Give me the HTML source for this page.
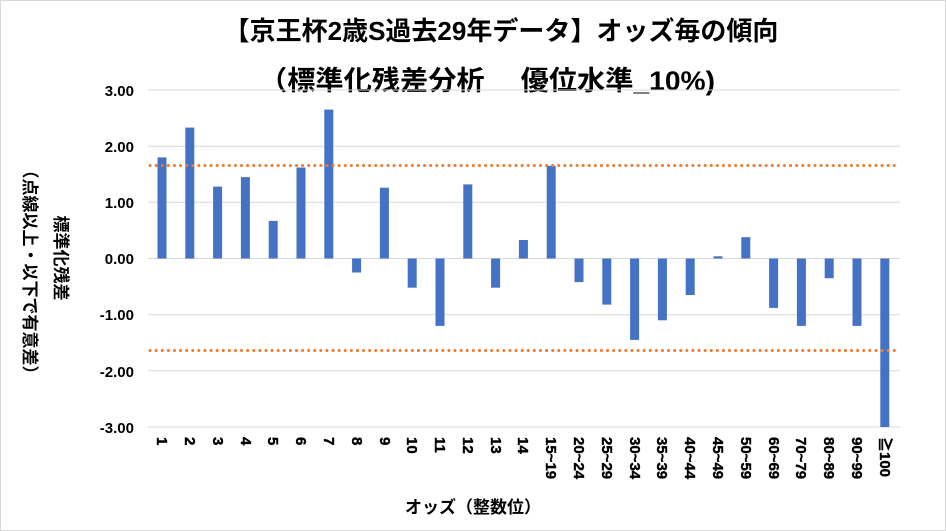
<!DOCTYPE html><html><head><meta charset="utf-8"><style>body{margin:0;background:#fff}svg{display:block}text{font-family:"Liberation Sans","Noto Sans CJK JP",sans-serif;font-weight:bold;fill:#000}</style></head><body>
<svg width="946" height="531" viewBox="0 0 946 531">
<rect x="0.5" y="0.5" width="945" height="530" fill="#fff" stroke="#d9d9d9"/>
<text x="501" y="40" font-size="26" text-anchor="middle">【京王杯2歳S過去29年データ】オッズ毎の傾向</text>
<text x="487" y="90" font-size="27" text-anchor="middle" textLength="456" lengthAdjust="spacingAndGlyphs">（標準化残差分析　 優位水準_10%)</text>
<g stroke="#d9d9d9" stroke-width="1">
<line x1="148" x2="900" y1="90" y2="90"/><line x1="148" x2="900" y1="146.2" y2="146.2"/><line x1="148" x2="900" y1="202.3" y2="202.3"/><line x1="148" x2="900" y1="258.5" y2="258.5"/><line x1="148" x2="900" y1="314.7" y2="314.7"/><line x1="148" x2="900" y1="370.8" y2="370.8"/><line x1="148" x2="900" y1="427" y2="427"/></g>
<g font-size="15" text-anchor="end">
<text x="134" y="96">3.00</text><text x="134" y="152">2.00</text><text x="134" y="208">1.00</text><text x="134" y="264">0.00</text><text x="134" y="320">-1.00</text><text x="134" y="377">-2.00</text><text x="134" y="433">-3.00</text></g>
<g fill="#4472c4">
<rect x="157.5" y="157.4" width="9" height="101.1"/><rect x="185.3" y="127.6" width="9" height="130.9"/><rect x="213.1" y="186.6" width="9" height="71.9"/><rect x="240.9" y="177.1" width="9" height="81.4"/><rect x="268.7" y="220.9" width="9" height="37.6"/><rect x="296.5" y="167.5" width="9" height="91"/><rect x="324.3" y="109.6" width="9" height="148.9"/><rect x="352.1" y="258.5" width="9" height="14"/><rect x="379.9" y="187.7" width="9" height="70.8"/><rect x="407.7" y="258.5" width="9" height="29.2"/><rect x="435.5" y="258.5" width="9" height="67.4"/><rect x="463.3" y="184.4" width="9" height="74.1"/><rect x="491.1" y="258.5" width="9" height="29.2"/><rect x="518.9" y="240" width="9" height="18.5"/><rect x="546.7" y="165.8" width="9" height="92.7"/><rect x="574.5" y="258.5" width="9" height="23.6"/><rect x="602.3" y="258.5" width="9" height="46.1"/><rect x="630.1" y="258.5" width="9" height="81.4"/><rect x="657.9" y="258.5" width="9" height="61.8"/><rect x="685.7" y="258.5" width="9" height="36.5"/><rect x="713.5" y="256.3" width="9" height="2.2"/><rect x="741.3" y="237.2" width="9" height="21.3"/><rect x="769.1" y="258.5" width="9" height="49.4"/><rect x="796.9" y="258.5" width="9" height="67.4"/><rect x="824.7" y="258.5" width="9" height="19.7"/><rect x="852.5" y="258.5" width="9" height="67.4"/><rect x="880.3" y="258.5" width="9" height="168.5"/></g>
<g stroke="#ed7d31" stroke-width="3" stroke-dasharray="0.1 6" stroke-linecap="round">
<line x1="150" x2="900" y1="165.5" y2="165.5"/><line x1="150" x2="900" y1="350.5" y2="350.5"/></g>
<g font-size="15" stroke="#000" stroke-width="0.4">
<text transform="translate(157,437) rotate(90)">1</text><text transform="translate(185,437) rotate(90)">2</text><text transform="translate(213,437) rotate(90)">3</text><text transform="translate(241,437) rotate(90)">4</text><text transform="translate(268,437) rotate(90)">5</text><text transform="translate(296,437) rotate(90)">6</text><text transform="translate(324,437) rotate(90)">7</text><text transform="translate(352,437) rotate(90)">8</text><text transform="translate(380,437) rotate(90)">9</text><text transform="translate(407,437) rotate(90)">10</text><text transform="translate(435,437) rotate(90)">11</text><text transform="translate(463,437) rotate(90)">12</text><text transform="translate(491,437) rotate(90)">13</text><text transform="translate(518,437) rotate(90)">14</text><text transform="translate(546,437) rotate(90)">15~19</text><text transform="translate(574,437) rotate(90)">20~24</text><text transform="translate(602,437) rotate(90)">25~29</text><text transform="translate(630,437) rotate(90)">30~34</text><text transform="translate(657,437) rotate(90)">35~39</text><text transform="translate(685,437) rotate(90)">40~44</text><text transform="translate(713,437) rotate(90)">45~49</text><text transform="translate(741,437) rotate(90)">50~59</text><text transform="translate(769,437) rotate(90)">60~69</text><text transform="translate(796,437) rotate(90)">70~79</text><text transform="translate(824,437) rotate(90)">80~89</text><text transform="translate(852,437) rotate(90)">90~99</text><text transform="translate(880,437) rotate(90)">≧100</text></g>
<text x="473" y="513" font-size="17" text-anchor="middle">オッズ（整数位）</text>
<text transform="translate(55,258) rotate(90)" font-size="17" text-anchor="middle">標準化残差</text>
<text transform="translate(24,272) rotate(90)" font-size="17" text-anchor="middle">（点線以上・以下で有意差）</text>
</svg></body></html>
